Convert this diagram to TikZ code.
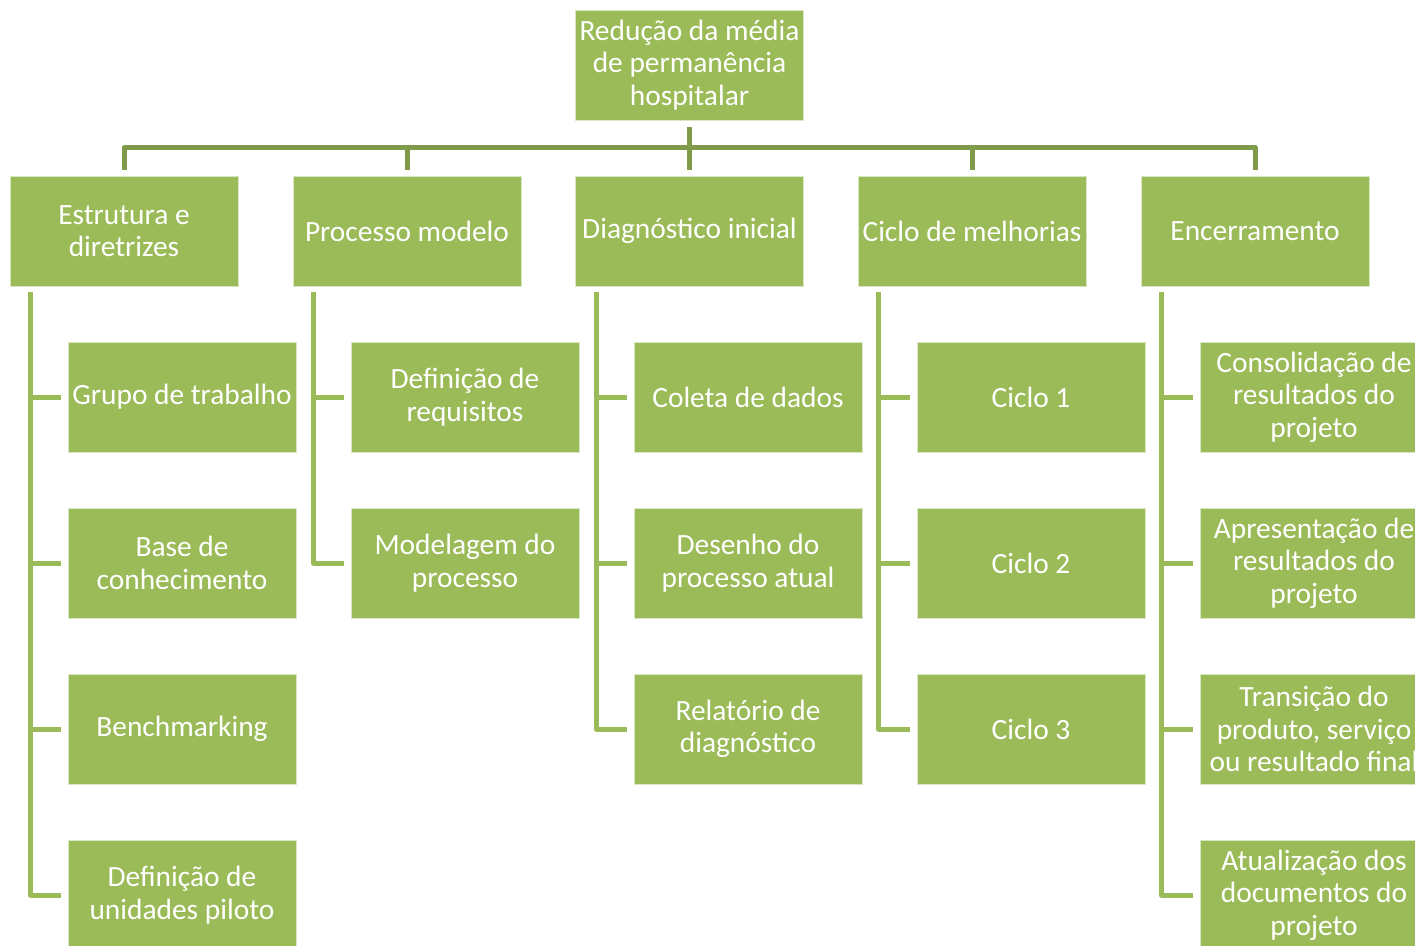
\documentclass[tikz,border=0pt]{standalone}
\usepackage{fontspec}
\setmainfont{Carlito}
\definecolor{boxgreen}{HTML}{9BBB59}
\definecolor{topline}{HTML}{7F9B49}
\definecolor{boxedge}{HTML}{D9E6C3}
\begin{document}
\begin{tikzpicture}[x=1pt,y=-1pt,
  box/.style={rectangle,fill=boxgreen,draw=boxedge,line width=0.8pt,minimum width=228pt,minimum height=110pt,inner sep=0pt,align=center,text=white,font=\fontsize{29.4}{32.5}\selectfont},
  topc/.style={draw=topline,line width=5pt,line join=round},
  subc/.style={draw=boxgreen,line width=5pt,line join=round}]
\useasboundingbox (0,0) rectangle (1415,945);
\clip (0,0) rectangle (1415,945);
\node[box] (root) at (689.5,65) {Redução da média\\de permanência\\hospitalar};
\node[box] (l1) at (124,231) {Estrutura e\\diretrizes};
\node[box] (l2) at (407,231) {Processo modelo};
\node[box] (l3) at (689.5,231) {Diagnóstico inicial};
\node[box] (l4) at (972,231) {Ciclo de melhorias};
\node[box] (l5) at (1255,231) {Encerramento};
% children
\node[box] (c11) at (182,397) {Grupo de trabalho};
\node[box] (c12) at (182,563) {Base de\\conhecimento};
\node[box] (c13) at (182,729) {Benchmarking};
\node[box] (c14) at (182,895) {Definição de\\unidades piloto};
\node[box] (c21) at (465,397) {Definição de\\requisitos};
\node[box] (c22) at (465,563) {Modelagem do\\processo};
\node[box] (c31) at (748,397) {Coleta de dados};
\node[box] (c32) at (748,563) {Desenho do\\processo atual};
\node[box] (c33) at (748,729) {Relatório de\\diagnóstico};
\node[box] (c41) at (1031,397) {Ciclo 1};
\node[box] (c42) at (1031,563) {Ciclo 2};
\node[box] (c43) at (1031,729) {Ciclo 3};
\node[box] (c51) at (1314,397) {Consolidação de\\resultados do\\projeto};
\node[box] (c52) at (1314,563) {Apresentação de\\resultados do\\projeto};
\node[box] (c53) at (1314,729) {Transição do\\produto, serviço\\ou resultado final};
\node[box] (c54) at (1314,895) {Atualização dos\\documentos do\\projeto};
% top connectors
\draw[topc] ([yshift=6pt]l1.north) -- ([yshift=28pt]l1.north) -- ([yshift=28pt]l5.north) -- ([yshift=6pt]l5.north);
\draw[topc] ([yshift=-7pt]root.south) -- ([yshift=6pt]l3.north);
\draw[topc] ([yshift=28pt]l2.north) -- ([yshift=6pt]l2.north);
\draw[topc] ([yshift=28pt]l4.north) -- ([yshift=6pt]l4.north);
% sub connectors
\draw[subc] ([xshift=21pt,yshift=-6pt]l1.south west) |- ([xshift=-7pt]c14.west);
\draw[subc] ([xshift=21pt]l1.south west |- c11.west) -- ([xshift=-7pt]c11.west);
\draw[subc] ([xshift=21pt]l1.south west |- c12.west) -- ([xshift=-7pt]c12.west);
\draw[subc] ([xshift=21pt]l1.south west |- c13.west) -- ([xshift=-7pt]c13.west);
\draw[subc] ([xshift=21pt,yshift=-6pt]l2.south west) |- ([xshift=-7pt]c22.west);
\draw[subc] ([xshift=21pt]l2.south west |- c21.west) -- ([xshift=-7pt]c21.west);
\draw[subc] ([xshift=21pt,yshift=-6pt]l3.south west) |- ([xshift=-7pt]c33.west);
\draw[subc] ([xshift=21pt]l3.south west |- c31.west) -- ([xshift=-7pt]c31.west);
\draw[subc] ([xshift=21pt]l3.south west |- c32.west) -- ([xshift=-7pt]c32.west);
\draw[subc] ([xshift=21pt,yshift=-6pt]l4.south west) |- ([xshift=-7pt]c43.west);
\draw[subc] ([xshift=21pt]l4.south west |- c41.west) -- ([xshift=-7pt]c41.west);
\draw[subc] ([xshift=21pt]l4.south west |- c42.west) -- ([xshift=-7pt]c42.west);
\draw[subc] ([xshift=21pt,yshift=-6pt]l5.south west) |- ([xshift=-7pt]c54.west);
\draw[subc] ([xshift=21pt]l5.south west |- c51.west) -- ([xshift=-7pt]c51.west);
\draw[subc] ([xshift=21pt]l5.south west |- c52.west) -- ([xshift=-7pt]c52.west);
\draw[subc] ([xshift=21pt]l5.south west |- c53.west) -- ([xshift=-7pt]c53.west);
\end{tikzpicture}
\end{document}
